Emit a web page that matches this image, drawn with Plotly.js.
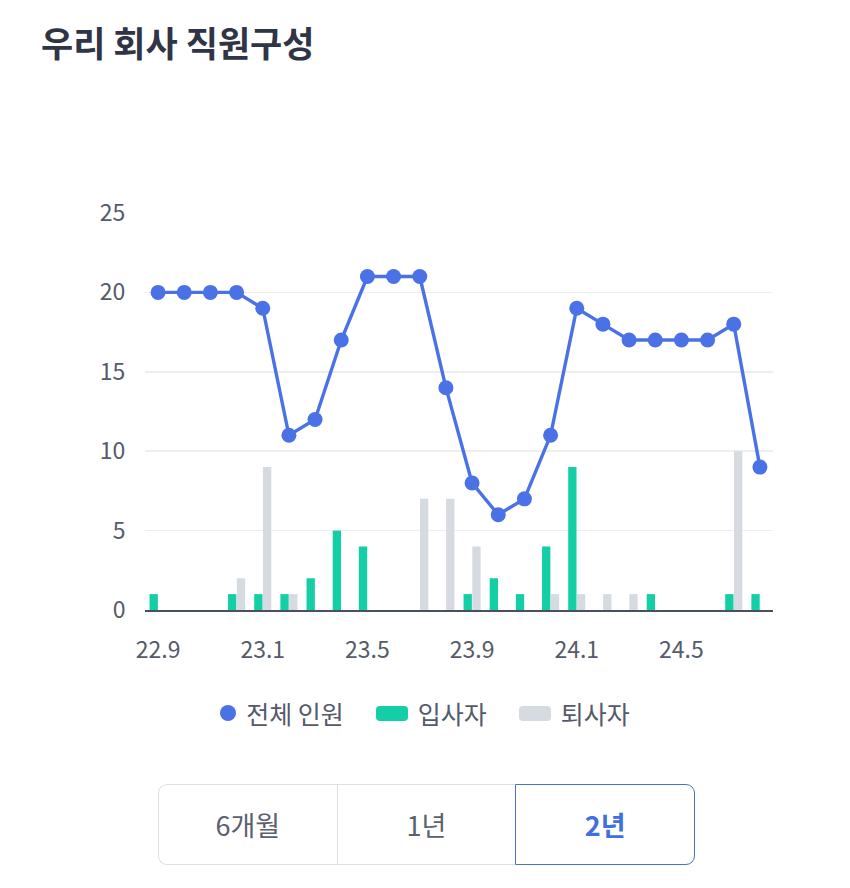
<!DOCTYPE html>
<html>
<head>
<meta charset="utf-8">
<script src="https://cdn.plot.ly/plotly-3.0.1.min.js"></script>
<style>
  html, body { margin: 0; padding: 0; background: #ffffff; }
  body { width: 850px; height: 888px; position: relative; overflow: hidden;
         font-family: "Noto Sans CJK KR", "Noto Sans", sans-serif; }
  #title { position: absolute; left: 41px; top: 19px; font-size: 35px; font-weight: 700;
           color: #2f3546; letter-spacing: 0px; line-height: 46px; white-space: nowrap; }
  #chart { position: absolute; left: 0; top: 0; width: 850px; height: 888px; }
  #legend { position: absolute; left: 0; width: 850px; top: 694px; height: 38px;
            display: flex; justify-content: center; align-items: center; gap: 0; }
  .li { display: flex; align-items: center; font-size: 25px; color: #535a69; margin: 0 16px; }
  .dot { width: 16px; height: 16px; border-radius: 50%; margin-right: 10px; }
  .sw { width: 32px; height: 15px; border-radius: 4px; margin-right: 10px; }
  #seg { position: absolute; left: 158px; top: 784px; width: 537px; height: 81px;
         display: flex; box-sizing: border-box; }
  .btn { flex: 1; display: flex; align-items: center; justify-content: center;
         font-size: 27px; color: #5a606c; border: 1.5px solid #dcdfe4; box-sizing: border-box; }
  .btn.first { border-radius: 9px 0 0 9px; border-right: none; }
  .btn.mid { border-right: none; }
  .btn.sel { border: 1.5px solid #4a72c8; border-radius: 0 9px 9px 0; color: #3f6fe0; font-weight: 700; }
</style>
</head>
<body>
<div id="chart"></div>
<div id="title"></div>
<div id="legend"></div>
<div id="seg"></div>
<script>
// ---- data ----
var chartTitle = "우리 회사 직원구성";
var months = ["22.9","22.10","22.11","22.12","23.1","23.2","23.3","23.4","23.5","23.6","23.7","23.8",
              "23.9","23.10","23.11","23.12","24.1","24.2","24.3","24.4","24.5","24.6","24.7","24.8"];
var totalStaff = [20,20,20,20,19,11,12,17,21,21,21,14,8,6,7,11,19,18,17,17,17,17,18,9];
var hires      = [1,0,0,1,1,1,2,5,4,0,0,0,1,2,1,4,9,0,0,1,0,0,1,1];
var leavers    = [0,0,0,2,9,1,0,0,0,0,7,7,4,0,0,1,1,1,1,0,0,0,10,0];
var tickLabels = ["22.9","23.1","23.5","23.9","24.1","24.5"];
var seriesNames = ["전체 인원","입사자","퇴사자"];
var periodButtons = ["6개월","1년","2년"];
var selectedPeriod = "2년";

var cBlue = "#4a72e6", cGreen = "#14cfa5", cGray = "#d6dae1";
var font = "Noto Sans CJK KR, Noto Sans, sans-serif";

document.getElementById("title").textContent = chartTitle;

var traces = [
  { type: "bar", name: seriesNames[1], x: months, y: hires, marker: { color: cGreen }, hoverinfo: "skip" },
  { type: "bar", name: seriesNames[2], x: months, y: leavers, marker: { color: cGray }, hoverinfo: "skip" },
  { type: "scatter", mode: "lines+markers", name: seriesNames[0], x: months, y: totalStaff,
    line: { color: cBlue, width: 3.4 }, marker: { color: cBlue, size: 15 }, cliponaxis: false, hoverinfo: "skip" }
];

var layout = {
  width: 850, height: 888,
  margin: { l: 145, r: 77, t: 213, b: 278, pad: 0 },
  paper_bgcolor: "rgba(0,0,0,0)", plot_bgcolor: "rgba(0,0,0,0)",
  showlegend: false,
  barmode: "group", bargap: 0.33, bargroupgap: 0.05,
  font: { family: font, color: "#545b6a", size: 22 },
  xaxis: {
    type: "category", categoryorder: "array", categoryarray: months,
    range: [-0.5, months.length - 0.5],
    tickmode: "array", tickvals: tickLabels, ticktext: tickLabels,
    showgrid: false, zeroline: false,
    showline: true, linecolor: "#4b5060", linewidth: 1.6,
    ticks: "outside", ticklen: 19, tickcolor: "rgba(0,0,0,0)",
    tickfont: { family: font, size: 23, color: "#545b6a" }, fixedrange: true
  },
  yaxis: {
    range: [0, 25], tickvals: [0,5,10,15,20,25],
    showgrid: true, gridcolor: "#eceef2", gridwidth: 1.5,
    zeroline: false, showline: false,
    ticks: "outside", ticklen: 14, tickcolor: "rgba(0,0,0,0)",
    tickfont: { family: font, size: 23, color: "#545b6a" }, fixedrange: true
  }
};

Plotly.newPlot("chart", traces, layout, { staticPlot: true, displayModeBar: false });

// legend
var leg = document.getElementById("legend");
var swatches = [["dot", cBlue], ["sw", cGreen], ["sw", cGray]];
seriesNames.forEach(function (n, i) {
  var it = document.createElement("div"); it.className = "li";
  var s = document.createElement("span"); s.className = swatches[i][0]; s.style.background = swatches[i][1];
  var t = document.createElement("span"); t.textContent = n;
  it.appendChild(s); it.appendChild(t); leg.appendChild(it);
});

// period buttons
var seg = document.getElementById("seg");
periodButtons.forEach(function (b, i) {
  var d = document.createElement("div");
  d.className = "btn" + (i === 0 ? " first" : "") + (b === selectedPeriod ? " sel" : (i > 0 ? " mid" : ""));
  d.textContent = b; seg.appendChild(d);
});
</script>
</body>
</html>
